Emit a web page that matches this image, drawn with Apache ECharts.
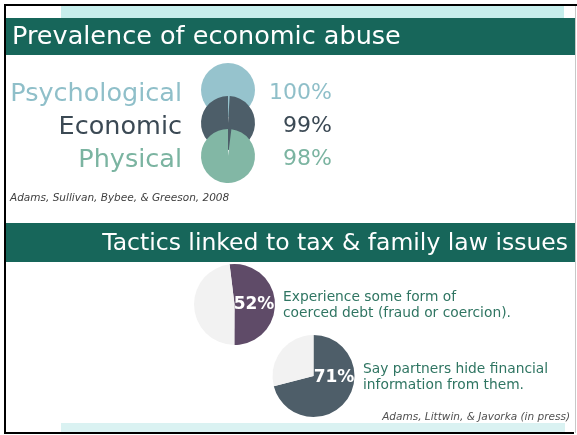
<!DOCTYPE html>
<html>
<head>
<meta charset="utf-8">
<script src="https://cdn.jsdelivr.net/npm/echarts@6/dist/echarts.min.js"></script>
<style>
  html, body { margin: 0; padding: 0; background: #fff; }
  #main { width: 577px; height: 435px; }
</style>
</head>
<body>
<div id="main"></div>
<script>
var chart = echarts.init(document.getElementById('main'));

// data
var headings = ['Prevalence of economic abuse', 'Tactics linked to tax & family law issues'];
var abuseTypes = ['Psychological', 'Economic', 'Physical'];
var abusePct = [100, 99, 98];
var tacticPct = [52, 71];
var tacticText = [
    'Experience some form of\ncoerced debt (fraud or coercion).',
    'Say partners hide financial\ninformation from them.'
];
var sources = ['Adams, Sullivan, Bybee, & Greeson, 2008', 'Adams, Littwin, & Javorka (in press)'];

// styles
var abuseColor = ['#96c3cd', '#4d5e69', '#82b7a5'];
var abuseTextColor = ['#8fbfc9', '#3b4954', '#7bb4a1'];
var tacticColor = ['#5f4b68', '#4e5e69'];
var band = '#17665a';
var font = 'DejaVu Sans';

var series = [];
var graphic = [];

// frame + bands
graphic.push(
    { type: 'rect', shape: { x: 61, y: 6, width: 503, height: 12 }, style: { fill: '#c6eeec' } },
    { type: 'rect', shape: { x: 61, y: 423, width: 504, height: 9 }, style: { fill: '#daf2f2' } },
    { type: 'rect', shape: { x: 5, y: 18, width: 571, height: 37 }, style: { fill: band } },
    { type: 'rect', shape: { x: 5, y: 223, width: 571, height: 39 }, style: { fill: band } },
    { type: 'rect', shape: { x: 4, y: 4, width: 573, height: 2 }, style: { fill: '#000' } },
    { type: 'rect', shape: { x: 4, y: 4, width: 2, height: 430 }, style: { fill: '#000' } },
    { type: 'rect', shape: { x: 4, y: 432, width: 570, height: 2 }, style: { fill: '#000' } },
    { type: 'rect', shape: { x: 575, y: 6, width: 1, height: 427 }, style: { fill: '#c8c8c8' } }
);
graphic.push(
    { type: 'text', x: 12, y: 37, style: { text: headings[0], fill: '#fff', font: '25.5px "' + font + '"', verticalAlign: 'middle', align: 'left' } },
    { type: 'text', x: 568, y: 244, style: { text: headings[1], fill: '#fff', font: '23.5px "' + font + '"', verticalAlign: 'middle', align: 'right' } }
);

// top: stacked overlapping pies
var topCenterY = [90, 123, 156];
for (var i = 0; i < abuseTypes.length; i++) {
    series.push({
        type: 'pie',
        center: [228, topCenterY[i]],
        radius: 27,
        startAngle: 90,
        clockwise: true,
        silent: true,
        label: { show: false },
        labelLine: { show: false },
        itemStyle: { borderWidth: 0 },
        data: [
            { value: 100 - abusePct[i], itemStyle: { color: 'rgba(0,0,0,0)' } },
            { value: abusePct[i], name: abuseTypes[i], itemStyle: { color: abuseColor[i] } }
        ]
    });
    graphic.push(
        { type: 'text', x: 182, y: topCenterY[i] + 4, style: { text: abuseTypes[i], fill: abuseTextColor[i], font: '25.5px "' + font + '"', align: 'right', verticalAlign: 'middle' } },
        { type: 'text', x: 332, y: topCenterY[i] + 3, style: { text: abusePct[i] + '%', fill: abuseTextColor[i], font: '22px "' + font + '"', align: 'right', verticalAlign: 'middle' } }
    );
}
graphic.push({ type: 'text', x: 10, y: 198, style: { text: sources[0], fill: '#404040', font: 'italic 10.5px "' + font + '"', verticalAlign: 'middle' } });

// bottom pies
var botCenter = [[234.5, 304.5], [313.5, 376]];
var botRadius = [40.5, 41];
var botStart = [97, 90];
var labelPos = [[254, 305], [334, 378]];
var textPos = [[283, 305], [363, 377]];
for (var j = 0; j < tacticPct.length; j++) {
    series.push({
        type: 'pie',
        center: botCenter[j],
        radius: botRadius[j],
        startAngle: botStart[j],
        clockwise: true,
        silent: true,
        label: { show: false },
        labelLine: { show: false },
        itemStyle: { borderWidth: 0 },
        data: [
            { value: tacticPct[j], itemStyle: { color: tacticColor[j] } },
            { value: 100 - tacticPct[j], itemStyle: { color: '#f2f2f2' } }
        ]
    });
    graphic.push(
        { type: 'text', x: labelPos[j][0], y: labelPos[j][1], z: 10, style: { text: tacticPct[j] + '%', fill: '#fff', font: 'bold 17px "' + font + '"', align: 'center', verticalAlign: 'middle' } },
        { type: 'text', x: textPos[j][0], y: textPos[j][1], style: { text: tacticText[j], fill: '#2f7562', font: '13.8px "' + font + '"', lineHeight: 16, align: 'left', verticalAlign: 'middle' } }
    );
}
graphic.push({ type: 'text', x: 570, y: 417, style: { text: sources[1], fill: '#505050', font: 'italic 10.5px "' + font + '"', align: 'right', verticalAlign: 'middle' } });

chart.setOption({
    animation: false,
    backgroundColor: '#fff',
    series: series,
    graphic: graphic
});
</script>
</body>
</html>
